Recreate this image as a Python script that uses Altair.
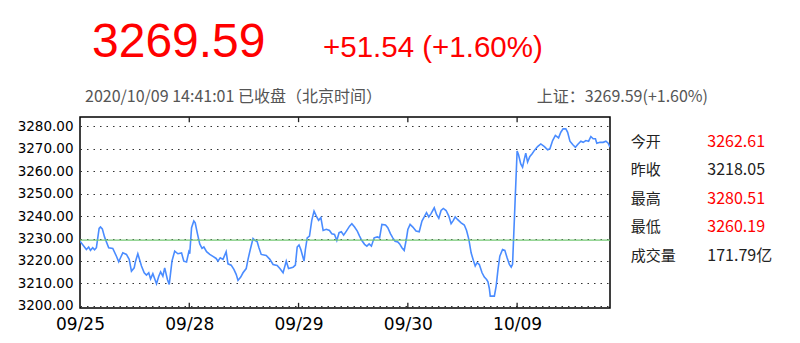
import altair as alt
import pandas as pd

# ---------------- data ----------------
day_labels = ["09/25", "09/28", "09/29", "09/30", "10/09"]
day_starts = [0, 240, 480, 720, 960]          # minutes from first open
x_end = 1164                                   # last minute shown (14:41 on 10/09)

d1_t = [0, 14, 19, 23, 28, 32, 36, 42, 45, 49, 54, 63, 72, 80, 85, 89, 94, 102, 108, 113,
        119, 122, 127, 135, 141, 146, 151, 155, 160, 168, 173, 177, 182, 186, 192, 196, 202,
        208, 215, 223, 228, 234, 239]
d1_v = [3228.8, 3225.1, 3226.2, 3224.7, 3225.9, 3225.0, 3225.9, 3234.5, 3235.2, 3234.3, 3230.6,
        3225.9, 3225.6, 3222.1, 3219.6, 3221.4, 3223.6, 3222.9, 3220.7, 3215.4, 3216.9, 3219.9,
        3223.2, 3217.7, 3214.7, 3213.7, 3214.7, 3212.0, 3214.3, 3209.8, 3213.2, 3215.1, 3213.2,
        3216.9, 3211.7, 3209.5, 3219.9, 3224.4, 3223.2, 3223.6, 3219.9, 3219.5, 3224.1]

d2_t = [241, 245, 250, 253, 258, 263, 268, 272, 278, 285, 292, 299, 303, 308, 314, 321, 325,
        332, 338, 343, 347, 353, 358, 365, 369, 374, 380, 384, 389, 393, 398, 409, 417, 424,
        433, 439, 446, 453, 458, 468, 473, 477, 481]
d2_v = [3223.2, 3234.8, 3237.8, 3237.0, 3232.1, 3227.6, 3225.6, 3226.2, 3224.1, 3222.9, 3222.0,
        3221.1, 3219.9, 3221.4, 3220.7, 3224.1, 3218.7, 3218.1, 3216.2, 3214.0, 3211.3, 3212.8,
        3214.7, 3216.6, 3220.7, 3225.1, 3230.0, 3229.2, 3228.6, 3225.9, 3222.9, 3222.4, 3220.7,
        3218.4, 3218.0, 3216.6, 3214.7, 3219.9, 3216.6, 3217.2, 3218.1, 3226.2, 3227.1]

d3_t = [485, 488, 492, 495, 499, 504, 509, 514, 519, 524, 529, 534, 541, 548, 553, 559, 564,
        569, 574, 579, 585, 592, 597, 603, 609, 614, 619, 625, 630, 635, 640, 646, 653, 658,
        663, 671, 676, 682, 687, 692, 698, 702, 707, 712, 717, 720]
d3_v = [3225.1, 3222.9, 3219.9, 3225.1, 3230.3, 3231.1, 3238.1, 3242.2, 3240.0, 3238.1, 3239.3,
        3233.6, 3234.1, 3233.6, 3232.1, 3231.8, 3229.1, 3232.6, 3233.0, 3231.5, 3233.3, 3235.5,
        3236.6, 3235.1, 3233.3, 3231.1, 3229.1, 3227.4, 3226.6, 3227.6, 3226.6, 3230.3, 3230.7,
        3230.3, 3236.3, 3236.0, 3234.8, 3232.1, 3230.3, 3228.8, 3228.5, 3227.6, 3225.9, 3224.7,
        3230.0, 3234.0]

d4_t = [725, 731, 738, 745, 751, 756, 761, 766, 771, 778, 783, 788, 793, 798, 804, 810, 815,
        820, 824, 829, 837, 844, 849, 854, 859, 864, 868, 872, 877, 883, 888, 893, 896, 899,
        901, 910, 914, 918, 922, 928, 933, 938, 943, 947, 950]
d4_v = [3236.3, 3235.1, 3233.3, 3233.0, 3237.8, 3239.6, 3241.5, 3239.6, 3241.1, 3243.7, 3240.7,
        3239.0, 3242.5, 3243.4, 3242.5, 3240.0, 3236.6, 3238.1, 3239.6, 3238.5, 3237.0, 3236.0,
        3233.6, 3229.6, 3223.6, 3220.2, 3217.7, 3219.2, 3218.4, 3214.7, 3212.8, 3211.7, 3210.7,
        3207.7, 3204.3, 3204.3, 3208.8, 3216.2, 3222.1, 3225.1, 3224.7, 3221.4, 3218.4, 3217.2,
        3218.5]

d5_t = [960, 963, 968, 972, 976, 979, 983, 988, 993, 998, 1005, 1012, 1020, 1027, 1032, 1038,
        1044, 1051, 1056, 1061, 1067, 1071, 1076, 1082, 1088, 1093, 1100, 1105, 1111, 1117,
        1122, 1127, 1132, 1135, 1142, 1149, 1155, 1160, 1164]
d5_v = [3269.0, 3267.5, 3263.3, 3261.8, 3265.5, 3268.1, 3264.1, 3266.6, 3267.8, 3269.3, 3271.0,
        3272.2, 3271.0, 3269.6, 3270.0, 3273.7, 3276.0, 3274.9, 3277.4, 3278.9, 3278.9, 3277.4,
        3273.4, 3271.9, 3270.7, 3271.9, 3273.4, 3272.9, 3273.7, 3273.4, 3275.5, 3274.5, 3274.5,
        3272.5, 3272.9, 3272.9, 3273.4, 3272.5, 3270.7]

ref_level = [3229.3]
y_ticks = [3200, 3210, 3220, 3230, 3240, 3250, 3260, 3270, 3280]

big_price = "3269.59"
big_change = "+51.54 (+1.60%)"
info_left = "2020/10/09 14:41:01 已收盘（北京时间）"
info_right = "上证：3269.59(+1.60%)"

table_labels = ["今开", "昨收", "最高", "最低", "成交量"]
table_values = ["3262.61", "3218.05", "3280.51", "3260.19", "171.79亿"]
table_colors = ["#ff0000", "#222222", "#ff0000", "#ff0000", "#222222"]

# ---------------- chart ----------------
times = d1_t + d2_t + d3_t + d4_t + d5_t
values = d1_v + d2_v + d3_v + d4_v + d5_v
df = pd.DataFrame({"t": times, "v": values})

W, H = 530, 191
y_lo, y_hi = 3199.0, 3284.2
x_scale = alt.Scale(domain=[0, x_end], nice=False, zero=False)
y_scale = alt.Scale(domain=[y_lo, y_hi], nice=False, zero=False)

label_expr = "[" + ",".join(f"'{s}'" for s in day_labels) + "][round(datum.value / 240)]"

x_axis = alt.Axis(values=day_starts, labelExpr=label_expr, title=None, grid=False, ticks=False,
                  domain=False, labelFontSize=17, labelFont="DejaVu Sans", labelColor="black",
                  labelPadding=8, labelFlush=False, labelOverlap=False)
y_axis = alt.Axis(values=y_ticks, format=".2f", title=None, grid=True, gridDash=[1.5, 5],
                  gridColor="#333333", gridWidth=1, ticks=False, domain=False,
                  labelFontSize=13.5, labelFont="DejaVu Sans", labelColor="black", labelPadding=7,
                  labelOverlap=False, labelFlush=False)

line = alt.Chart(df).mark_line(color="#4a8cff", strokeWidth=1.6, clip=True).encode(
    x=alt.X("t:Q", scale=x_scale, axis=x_axis),
    y=alt.Y("v:Q", scale=y_scale, axis=y_axis),
)

ref = alt.Chart(pd.DataFrame({"v": ref_level})).mark_rule(color="#74c874", strokeWidth=1.3).encode(
    y=alt.Y("v:Q", scale=y_scale, axis=y_axis)
)

tick_len = 2.3
ticks_df = pd.DataFrame({
    "t": day_starts[1:] * 2,
    "v": [y_lo] * 4 + [y_hi] * 4,
    "v2": [y_lo + tick_len] * 4 + [y_hi - tick_len] * 4,
})
ticks = alt.Chart(ticks_df).mark_rule(color="#222222", strokeWidth=1.3).encode(
    x=alt.X("t:Q", scale=x_scale, axis=x_axis),
    y=alt.Y("v:Q", scale=y_scale, axis=y_axis),
    y2="v2:Q",
)


def label(text, x, y, size, color, font, align="left", baseline="alphabetic"):
    return alt.Chart(pd.DataFrame({"s": [text]})).mark_text(
        align=align, baseline=baseline, fontSize=size, color=color, font=font
    ).encode(text="s:N", x=alt.value(x), y=alt.value(y))


texts = [
    label(big_price, 12, -60.3, 48, "#ff0000", "Liberation Sans"),
    label(big_change, 243, -60.3, 29.5, "#ff0000", "Liberation Sans"),
    label(info_left, 5, -15, 16, "#555555", "Noto Sans CJK SC"),
    label(info_right, 628, -15, 16, "#555555", "Noto Sans CJK SC", align="right"),
]
for i, (lab, val, col) in enumerate(zip(table_labels, table_values, table_colors)):
    yy = 24.5 + i * 28.5
    texts.append(label(lab, 550.7, yy, 15, "#222222", "Noto Sans CJK SC", baseline="middle"))
    texts.append(label(val, 627.3, yy, 16, col, "Noto Sans CJK SC", baseline="middle"))

chart = alt.layer(line, ref, ticks, *texts).properties(
    width=W, height=H,
    padding={"left": 80, "top": 117, "right": 190, "bottom": 35},
    autosize=alt.AutoSizeParams(type="none"),
    background="white",
).configure_view(stroke="black", strokeWidth=1.5)

chart.save("out.html", embed_options={"renderer": "svg", "actions": False})
